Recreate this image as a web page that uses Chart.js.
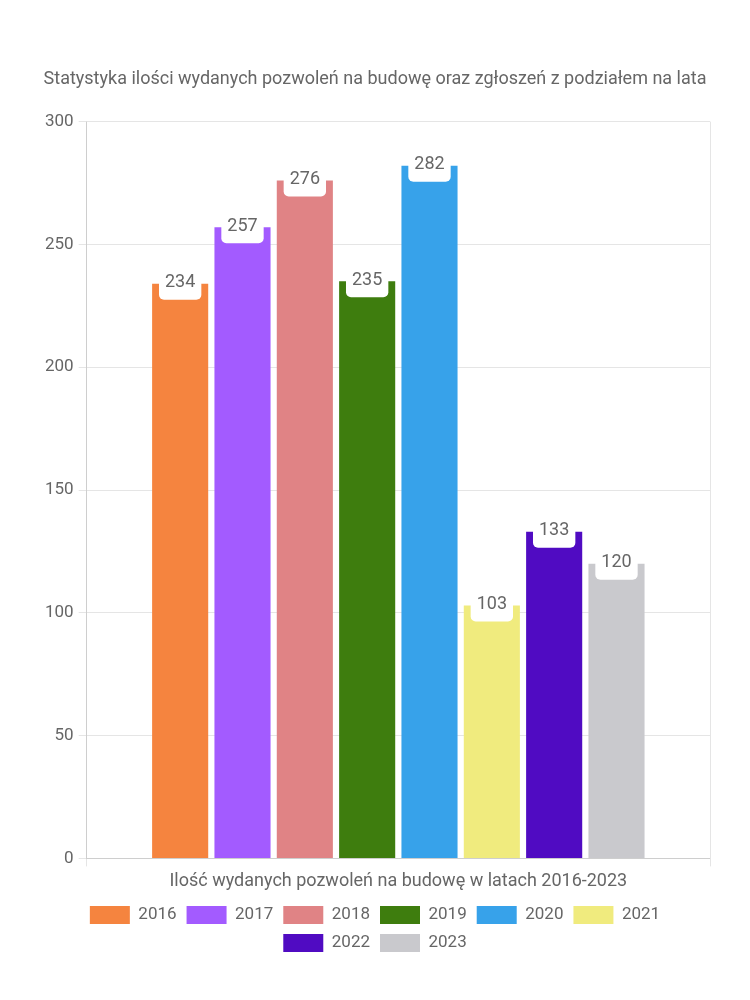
<!DOCTYPE html>
<html>
<head>
<meta charset="utf-8">
<script src="https://cdn.jsdelivr.net/npm/chart.js@4"></script>
<style>
  body { margin: 0; background: #fff; }
  #wrap { width: 750px; height: 1000px; }
</style>
</head>
<body>
<div id="wrap"><canvas id="chart" width="750" height="1000"></canvas></div>
<script>
  'use strict';

  var years = ['2016', '2017', '2018', '2019', '2020', '2021', '2022', '2023'];
  var permits = [234, 257, 276, 235, 282, 103, 133, 120];
  var yearColors = ['#F5843F', '#A35BFF', '#E08385', '#3E7D0E', '#37A2EA', '#F0EB7E', '#500BC2', '#C9C9CD'];
  var chartTitle = 'Statystyka ilości wydanych pozwoleń na budowę oraz zgłoszeń z podziałem na lata';
  var axisTitle = 'Ilość wydanych pozwoleń na budowę w latach 2016-2023';

  var textColor = '#666';
  Chart.defaults.font.family = 'Roboto, "Liberation Sans", sans-serif';
  Chart.defaults.font.size = 16;
  Chart.defaults.color = textColor;

  // white label box sitting on top of each bar
  var valueBoxes = {
    id: 'valueBoxes',
    afterDatasetsDraw: function (chart) {
      var ctx = chart.ctx;
      ctx.save();
      ctx.font = '18px Roboto, "Liberation Sans", sans-serif';
      ctx.textAlign = 'center';
      ctx.textBaseline = 'middle';
      chart.data.datasets.forEach(function (ds, i) {
        var meta = chart.getDatasetMeta(i);
        meta.data.forEach(function (bar, j) {
          var txt = String(ds.data[j]);
          var w = ctx.measureText(txt).width + 12;
          var h = 32;
          ctx.fillStyle = '#fff';
          ctx.beginPath();
          ctx.roundRect(bar.x - w / 2, bar.y - h / 2, w, h, 5);
          ctx.fill();
          ctx.fillStyle = textColor;
          ctx.fillText(txt, bar.x, bar.y - 1);
        });
      });
      ctx.restore();
    }
  };

  var datasets = years.map(function (y, i) {
    return {
      label: y,
      data: [permits[i]],
      backgroundColor: yearColors[i],
      borderColor: yearColors[i],
      borderWidth: 0
    };
  });

  new Chart(document.getElementById('chart').getContext('2d'), {
    type: 'bar',
    data: { labels: [''], datasets: datasets },
    plugins: [valueBoxes],
    options: {
      responsive: false,
      animation: false,
      layout: { padding: { top: 59, left: 40, right: 40, bottom: 38 } },
      plugins: {
        title: {
          display: true,
          text: chartTitle,
          color: textColor,
          font: { size: 18, weight: 'normal' },
          padding: { top: 10, bottom: 31 }
        },
        legend: {
          position: 'bottom',
          labels: { boxWidth: 40, boxHeight: 18, padding: 10, color: textColor, font: { size: 17 } }
        },
        tooltip: { enabled: false }
      },
      scales: {
        x: {
          title: { display: true, text: axisTitle, color: textColor, font: { size: 18 } },
          ticks: { display: false }
        },
        y: {
          min: 0,
          max: 300,
          ticks: { stepSize: 50, color: textColor, padding: 5, font: { size: 17 } }
        }
      }
    }
  });
</script>
</body>
</html>
